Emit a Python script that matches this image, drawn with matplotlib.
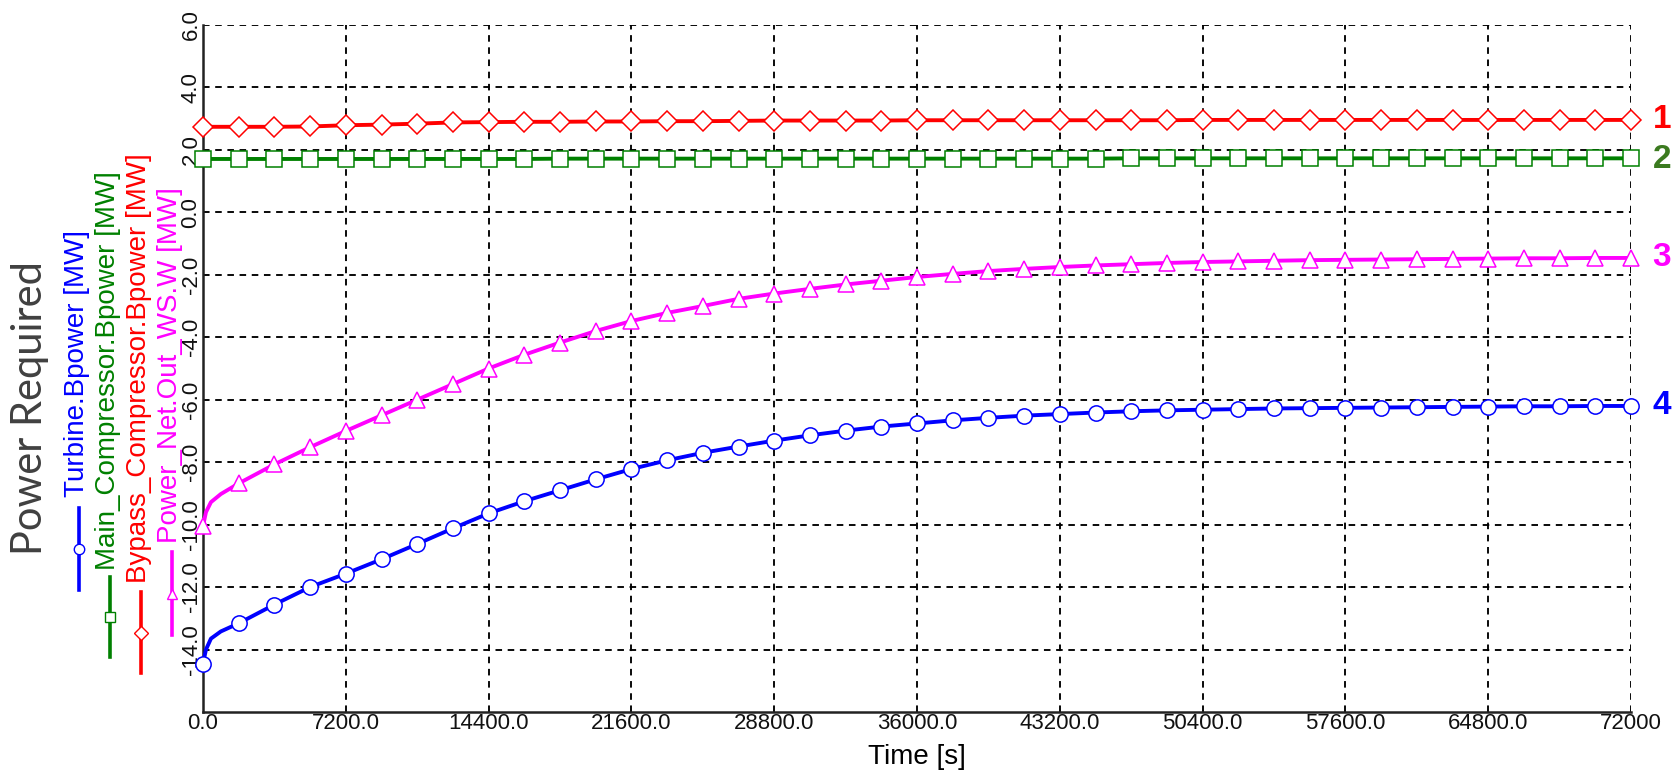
import numpy as np
import matplotlib
matplotlib.use('Agg')
import matplotlib.pyplot as plt
from matplotlib.lines import Line2D

plt.rcParams['font.family'] = ['Liberation Sans', 'DejaVu Sans']

W, H = 1673, 770

# Time samples [s]: a few early points for the start-up transient, then every 1800 s
time_s = [0, 150, 400, 900] + list(range(1800, 72001, 1800))

# Series values [MW]
turbine = [-14.45, -14.0, -13.65, -13.42,
           -13.16, -12.56, -12.0, -11.57, -11.11, -10.62, -10.12, -9.64, -9.25, -8.9,
           -8.55, -8.22, -7.94, -7.7, -7.5, -7.31, -7.14, -6.99, -6.86, -6.76,
           -6.66, -6.58, -6.51, -6.46, -6.41, -6.37, -6.34, -6.32, -6.3, -6.28,
           -6.27, -6.26, -6.25, -6.24, -6.23, -6.22, -6.21, -6.21, -6.2, -6.2]
main_comp = [1.71, 1.71, 1.71, 1.71,
             1.71, 1.71, 1.71, 1.71, 1.71, 1.71, 1.71, 1.71, 1.71, 1.72,
             1.72, 1.72, 1.72, 1.72, 1.72, 1.72, 1.72, 1.72, 1.72, 1.72,
             1.72, 1.72, 1.72, 1.72, 1.72, 1.73, 1.73, 1.73, 1.73, 1.73,
             1.73, 1.73, 1.73, 1.73, 1.73, 1.73, 1.73, 1.73, 1.73, 1.73]
bypass_comp = [2.74, 2.74, 2.74, 2.74,
               2.74, 2.74, 2.75, 2.79, 2.81, 2.84, 2.88, 2.89, 2.9, 2.9,
               2.91, 2.91, 2.92, 2.92, 2.93, 2.94, 2.94, 2.94, 2.94, 2.95,
               2.95, 2.95, 2.95, 2.95, 2.95, 2.95, 2.95, 2.96, 2.96, 2.96,
               2.96, 2.96, 2.96, 2.96, 2.96, 2.96, 2.96, 2.96, 2.96, 2.96]
net_power = [-10.05, -9.6, -9.28, -9.02,
             -8.68, -8.07, -7.52, -7.0, -6.5, -6.0, -5.5, -5.0, -4.56, -4.17,
             -3.8, -3.48, -3.22, -3.0, -2.77, -2.6, -2.45, -2.31, -2.19, -2.07,
             -1.97, -1.88, -1.81, -1.75, -1.7, -1.66, -1.62, -1.59, -1.57, -1.55,
             -1.53, -1.52, -1.51, -1.5, -1.49, -1.48, -1.47, -1.47, -1.46, -1.46]

series_labels = ['Turbine.Bpower [MW]', 'Main_Compressor.Bpower [MW]',
                 'Bypass_Compressor.Bpower [MW]', 'Power_Net.Out_WS.W [MW]']
series_colors = ['#0000FF', '#008000', '#FF0000', '#FF00FF']
series_markers = ['o', 's', 'D', '^']
series_msize = [11, 12, 10.5, 12]
curve_numbers = ['4', '2', '1', '3']
number_colors = ['#0000FF', '#3B7A1F', '#FF0000', '#FF00FF']

x_ticks = list(range(0, 72001, 7200))
x_ticklabels = ['0.0', '7200.0', '14400.0', '21600.0', '28800.0', '36000.0',
                '43200.0', '50400.0', '57600.0', '64800.0', '72000']
y_ticks = [-14, -12, -10, -8, -6, -4, -2, 0, 2, 4, 6]


def fpos(x, y):
    # pixel position (from top-left) -> figure fraction
    return x / W, 1 - y / H


fig = plt.figure(figsize=(W / 100, H / 100), dpi=100)
ax = fig.add_axes([203 / W, 1 - 712 / H, (1631 - 203) / W, (712 - 25) / H])

mark_idx = [0] + list(range(4, len(time_s)))
all_series = [turbine, main_comp, bypass_comp, net_power]
for vals, col, mk, ms in zip(all_series, series_colors, series_markers, series_msize):
    ax.plot(time_s, vals, color=col, lw=2.8, marker=mk, markersize=ms,
            markerfacecolor='white', markeredgecolor=col, markeredgewidth=1.1,
            markevery=mark_idx, zorder=3, clip_on=False)

ax.set_xlim(0, 72000)
ax.set_ylim(-16, 6)
ax.set_xticks(x_ticks)
ax.set_xticklabels(x_ticklabels)
ax.set_yticks(y_ticks)
ax.set_yticklabels(['%.1f' % v for v in y_ticks], rotation=90, va='center')
ax.tick_params(length=0, labelsize=16, pad=1, labelcolor='#111111')
ax.grid(True, color='black', linestyle=(0, (3.5, 3)), linewidth=1.35)
for s in ['top', 'right']:
    ax.spines[s].set_visible(False)
for s in ['left', 'bottom']:
    ax.spines[s].set_color('#222222')
    ax.spines[s].set_linewidth(1.8)

ax.set_xlabel('Time [s]', fontsize=20)
ax.xaxis.label.set_va('center')
ax.xaxis.set_label_coords(0.5, -45 / 687)

# big axis title on the far left
fig.text(*fpos(30, 408), 'Power Required', rotation=90, ha='center', va='center',
         fontsize=30, color='#404040', family=['Lato', 'DejaVu Sans'])

# vertical legend entries: text, then a short line with a marker under it
leg_x = [79, 110, 141, 172]
leg_text_bottom = [497, 570, 583, 543]
leg_line = [(508, 590), (577, 657), (592, 673), (552, 635)]
for i in range(4):
    tx, ty = fpos(leg_x[i] - 2, leg_text_bottom[i])
    fig.text(tx, ty, series_labels[i], rotation=90, ha='center', va='bottom',
             fontsize=20, color=series_colors[i])
    y1, y2 = leg_line[i]
    x0, _ = fpos(leg_x[i], 0)
    ys = [1 - y1 / H, 1 - (y1 + y2) / 2 / H, 1 - y2 / H]
    fig.add_artist(Line2D([x0, x0, x0], ys, transform=fig.transFigure,
                          color=series_colors[i], lw=2.6, marker=series_markers[i],
                          markersize=7.5, markerfacecolor='white',
                          markeredgecolor=series_colors[i], markevery=[1]))

# curve numbers on the right
num_y = {'1': 120, '2': 160, '3': 258, '4': 405}
for n, c in zip(curve_numbers, number_colors):
    fig.text(*fpos(1662, num_y[n]), n, ha='center', va='center', fontsize=24,
             fontweight='bold', color=c)

fig.savefig('out.png', dpi=100)
plt.close()
